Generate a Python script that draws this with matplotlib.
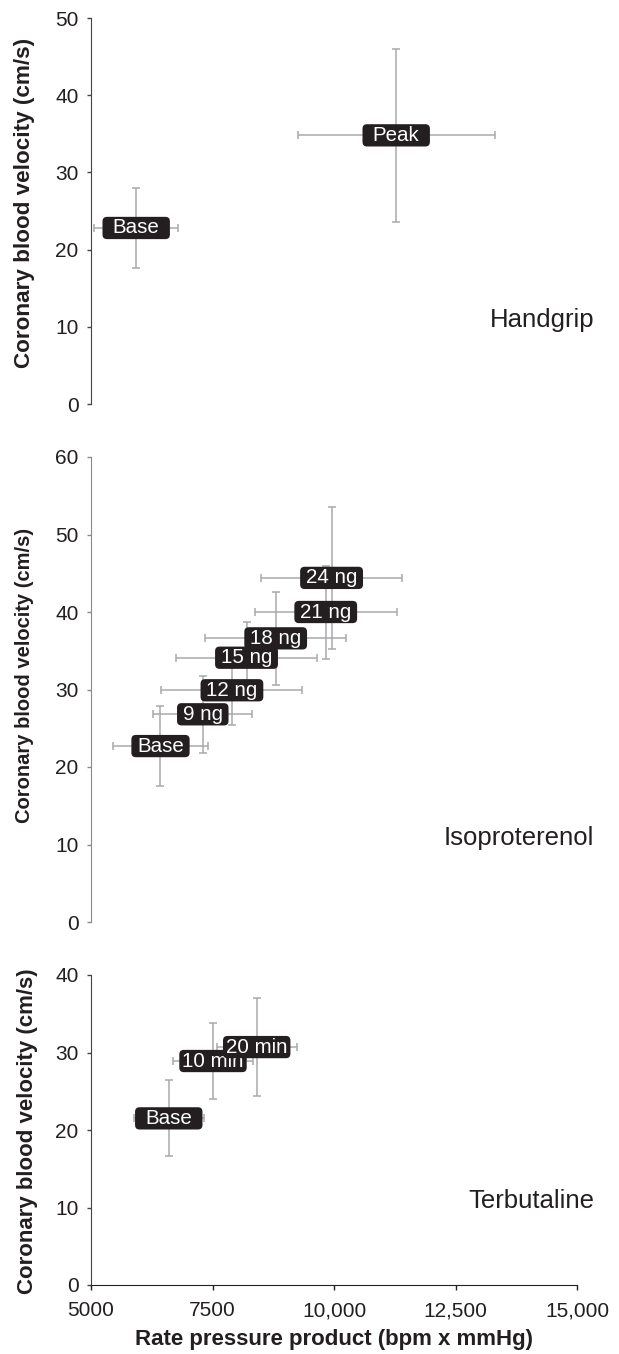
import matplotlib
matplotlib.use("Agg")
import matplotlib.pyplot as plt
from matplotlib.patches import BoxStyle

plt.rcParams['font.family'] = ['Liberation Sans', 'DejaVu Sans']

# Handgrip
hg_labels = ["Base", "Peak"]
hg_rpp = [5930, 11280]
hg_rpp_err = [865, 2030]
hg_cbv = [22.8, 34.8]
hg_cbv_err = [5.2, 11.2]

# Isoproterenol
iso_labels = ["Base", "9 ng", "12 ng", "15 ng", "18 ng", "21 ng", "24 ng"]
iso_rpp = [6430, 7300, 7900, 8200, 8800, 9830, 9950]
iso_rpp_err = [970, 1020, 1450, 1450, 1450, 1460, 1450]
iso_cbv = [22.7, 26.8, 29.9, 34.1, 36.6, 40.0, 44.4]
iso_cbv_err = [5.2, 5.0, 4.5, 4.6, 6.0, 6.0, 9.2]

# Terbutaline
tb_labels = ["Base", "10 min", "20 min"]
tb_rpp = [6600, 7510, 8410]
tb_rpp_err = [720, 820, 820]
tb_cbv = [21.5, 28.9, 30.7]
tb_cbv_err = [4.9, 4.9, 6.3]

x_ticks = [5000, 7500, 10000, 12500, 15000]
x_ticklabels = ["5000", "7500", "10,000", "12,500", "15,000"]

DARK = '#231f20'
ERR = '#a7a9ac'


def pill(padx, minw, pady=0.08):
    # rounded label box with separate x/y padding and a minimum width
    def style(x0, y0, width, height, mutation_size):
        w = max(width + 2 * padx * mutation_size, minw * mutation_size)
        py = pady * mutation_size
        cx = x0 + width / 2
        return BoxStyle.Round(pad=0, rounding_size=0.22)(
            cx - w / 2, y0 - py, w, height + 2 * py, mutation_size)
    return style


fig = plt.figure(figsize=(6.19, 13.54), dpi=100)
left, width = 91 / 619, 486 / 619
ax1 = fig.add_axes([left, (1354 - 404) / 1354, width, 386 / 1354])
ax2 = fig.add_axes([left, (1354 - 922) / 1354, width, 465 / 1354])
ax3 = fig.add_axes([left, (1354 - 1285) / 1354, width, 310 / 1354])

panels = [
    (ax1, hg_rpp, hg_rpp_err, hg_cbv, hg_cbv_err, hg_labels, 50, "Handgrip", pill(0.1, 3.28), 16.2, 0.522, -0.136),
    (ax2, iso_rpp, iso_rpp_err, iso_cbv, iso_cbv_err, iso_labels, 60, "Isoproterenol", pill(0.28, 0), 14.5, 0.531, -0.136),
    (ax3, tb_rpp, tb_rpp_err, tb_cbv, tb_cbv_err, tb_labels, 40, "Terbutaline", pill(0.1, 3.28), 16.0, 0.495, -0.13),
]

for ax, xs, xe, ys, ye, labs, ymax, name, box, ylab_fs, ylab_y, ylab_x in panels:
    ax.errorbar(xs, ys, xerr=xe, yerr=ye, fmt='none', ecolor=ERR,
                elinewidth=1.1, capsize=3, capthick=1.1, zorder=2)
    for x, y, lab in zip(xs, ys, labs):
        ax.text(x, y, lab, ha='center', va='center', color='white', fontsize=14.8,
                zorder=3, bbox=dict(boxstyle=box, fc=DARK, ec='none'))
    ax.text(15350, 10, name, ha='right', va='baseline', fontsize=18.5,
            color=DARK, clip_on=False)
    ax.set_xlim(5000, 15000)
    ax.set_ylim(0, ymax)
    ax.set_yticks(range(0, ymax + 1, 10))
    for s in ['top', 'right']:
        ax.spines[s].set_visible(False)
    ax.spines['left'].set_color('#444444')
    ax.tick_params(axis='y', direction='out', length=3, width=1, pad=6,
                   labelsize=15, colors='#444444', labelcolor=DARK)
    ax.set_ylabel("Coronary blood velocity (cm/s)", fontsize=ylab_fs,
                  fontweight='bold', color=DARK, va='center')
    ax.yaxis.set_label_coords(ylab_x, ylab_y)

ax2.spines['left'].set_color('#8a8a8a')
ax2.tick_params(axis='y', colors='#8a8a8a', labelcolor=DARK)

for ax in (ax1, ax2):
    ax.spines['bottom'].set_visible(False)
    ax.set_xticks([])

ax3.spines['bottom'].set_color('#222222')
ax3.set_xticks(x_ticks)
ax3.set_xticklabels(x_ticklabels)
ax3.tick_params(axis='x', direction='out', length=3.6, width=1, pad=8,
                labelsize=15, colors='#222222', labelcolor=DARK)
ax3.set_xlabel("Rate pressure product (bpm x mmHg)", fontsize=16,
               fontweight='bold', color=DARK)
ax3.xaxis.set_label_coords(0.5, -0.142)

fig.savefig("out.png", dpi=100)
